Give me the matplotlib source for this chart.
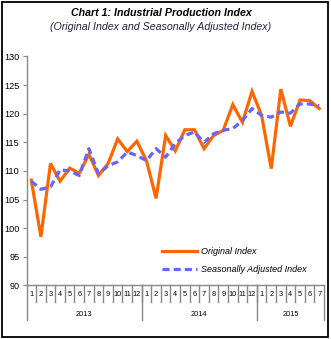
import numpy as np
import matplotlib
matplotlib.use("Agg")
import matplotlib.pyplot as plt
from matplotlib.patches import Rectangle

plt.rcParams['font.family'] = ['Liberation Sans', 'DejaVu Sans']

# data
months = ['1', '2', '3', '4', '5', '6', '7', '8', '9', '10', '11', '12',
          '1', '2', '3', '4', '5', '6', '7', '8', '9', '10', '11', '12',
          '1', '2', '3', '4', '5', '6', '7']
years = ['2013', '2014', '2015']
year_counts = [12, 12, 7]

original = [108.4, 98.5, 111.3, 108.2, 110.5, 109.6, 112.9, 109.2, 111.3, 115.6,
            113.4, 115.2, 111.8, 105.2, 116.2, 113.5, 117.2, 117.2, 113.9, 116.2,
            117.1, 121.6, 118.5, 123.9, 119.7, 110.4, 124.3, 117.8, 122.4, 122.3,
            120.9]
seasonal = [108.2, 106.8, 107.2, 110.2, 110.0, 109.2, 113.9, 109.5, 110.9, 111.6,
            113.3, 112.7, 111.8, 113.9, 112.4, 114.8, 116.2, 116.8, 115.0, 116.5,
            117.1, 117.4, 118.8, 120.9, 119.7, 119.4, 120.3, 120.1, 121.7, 121.7,
            121.4]

W, H = 331, 339
fig = plt.figure(figsize=(W / 100, H / 100), dpi=100)

# figure border
fig.patches.append(Rectangle((1.7 / W, 2.3 / H), 326.3 / W, 334.4 / H,
                             transform=fig.transFigure, fill=False,
                             edgecolor='black', linewidth=1.3))

fig.text(161 / W, 1 - 13 / H, 'Chart 1: Industrial Production Index',
         ha='center', va='center', fontsize=7.7, fontweight='bold', style='italic')
fig.text(161 / W, 1 - 27 / H, '(Original Index and Seasonally Adjusted Index)',
         ha='center', va='center', fontsize=7.7, style='italic', color='#222244')

left, right = 26.5 / W, 324 / W
bottom, top = 1 - 285.4 / H, 1 - 56.5 / H
ax = fig.add_axes([left, bottom, right - left, top - bottom])

x = np.arange(len(original))
ax.plot(x, original, color='#FF6600', lw=2.3, label='Original Index',
        solid_joinstyle='miter')
ax.plot(x, seasonal, color='#6666FF', lw=2.3, dashes=(2.2, 1.3),
        label='Seasonally Adjusted Index')

ax.set_xlim(-0.5, len(original) - 0.5)
ax.set_ylim(90, 130)
ax.set_yticks(np.arange(90, 131, 5))
ax.tick_params(axis='y', direction='out', length=3, color='#888888',
               labelsize=6.6, pad=2)
ax.set_xticks([])
for s in ['top', 'right']:
    ax.spines[s].set_visible(False)
for s in ['left', 'bottom']:
    ax.spines[s].set_color('#888888')
    ax.spines[s].set_linewidth(1)

# category labels
trans = ax.get_xaxis_transform()
px = 1.0 / (285.4 - 56.5)
for i, m in enumerate(months):
    ax.text(i, -9 * px, m, transform=trans, ha='center', va='center',
            fontsize=5.3)
for b in np.arange(0.5, len(months) - 0.5, 1.0):
    ax.plot([b, b], [0, -17 * px], transform=trans, color='#888888',
            lw=1, clip_on=False)
start = 0
edges = [-0.5]
for y, n in zip(years, year_counts):
    ax.text(start + n / 2 - 0.5, -29.5 * px, y, transform=trans,
            ha='center', va='center', fontsize=5.3)
    start += n
    edges.append(start - 0.5)
for e in edges:
    ax.plot([e, e], [0, -35 * px], transform=trans, color='#888888',
            lw=1, clip_on=False)

ax.legend(loc='upper left', bbox_to_anchor=(154 / W, 1 - 239 / H),
          bbox_transform=fig.transFigure, frameon=False,
          handlelength=3.9, handletextpad=0.45, labelspacing=1.0,
          prop={'style': 'italic', 'size': 6.5})

fig.savefig('out.png', dpi=100)
